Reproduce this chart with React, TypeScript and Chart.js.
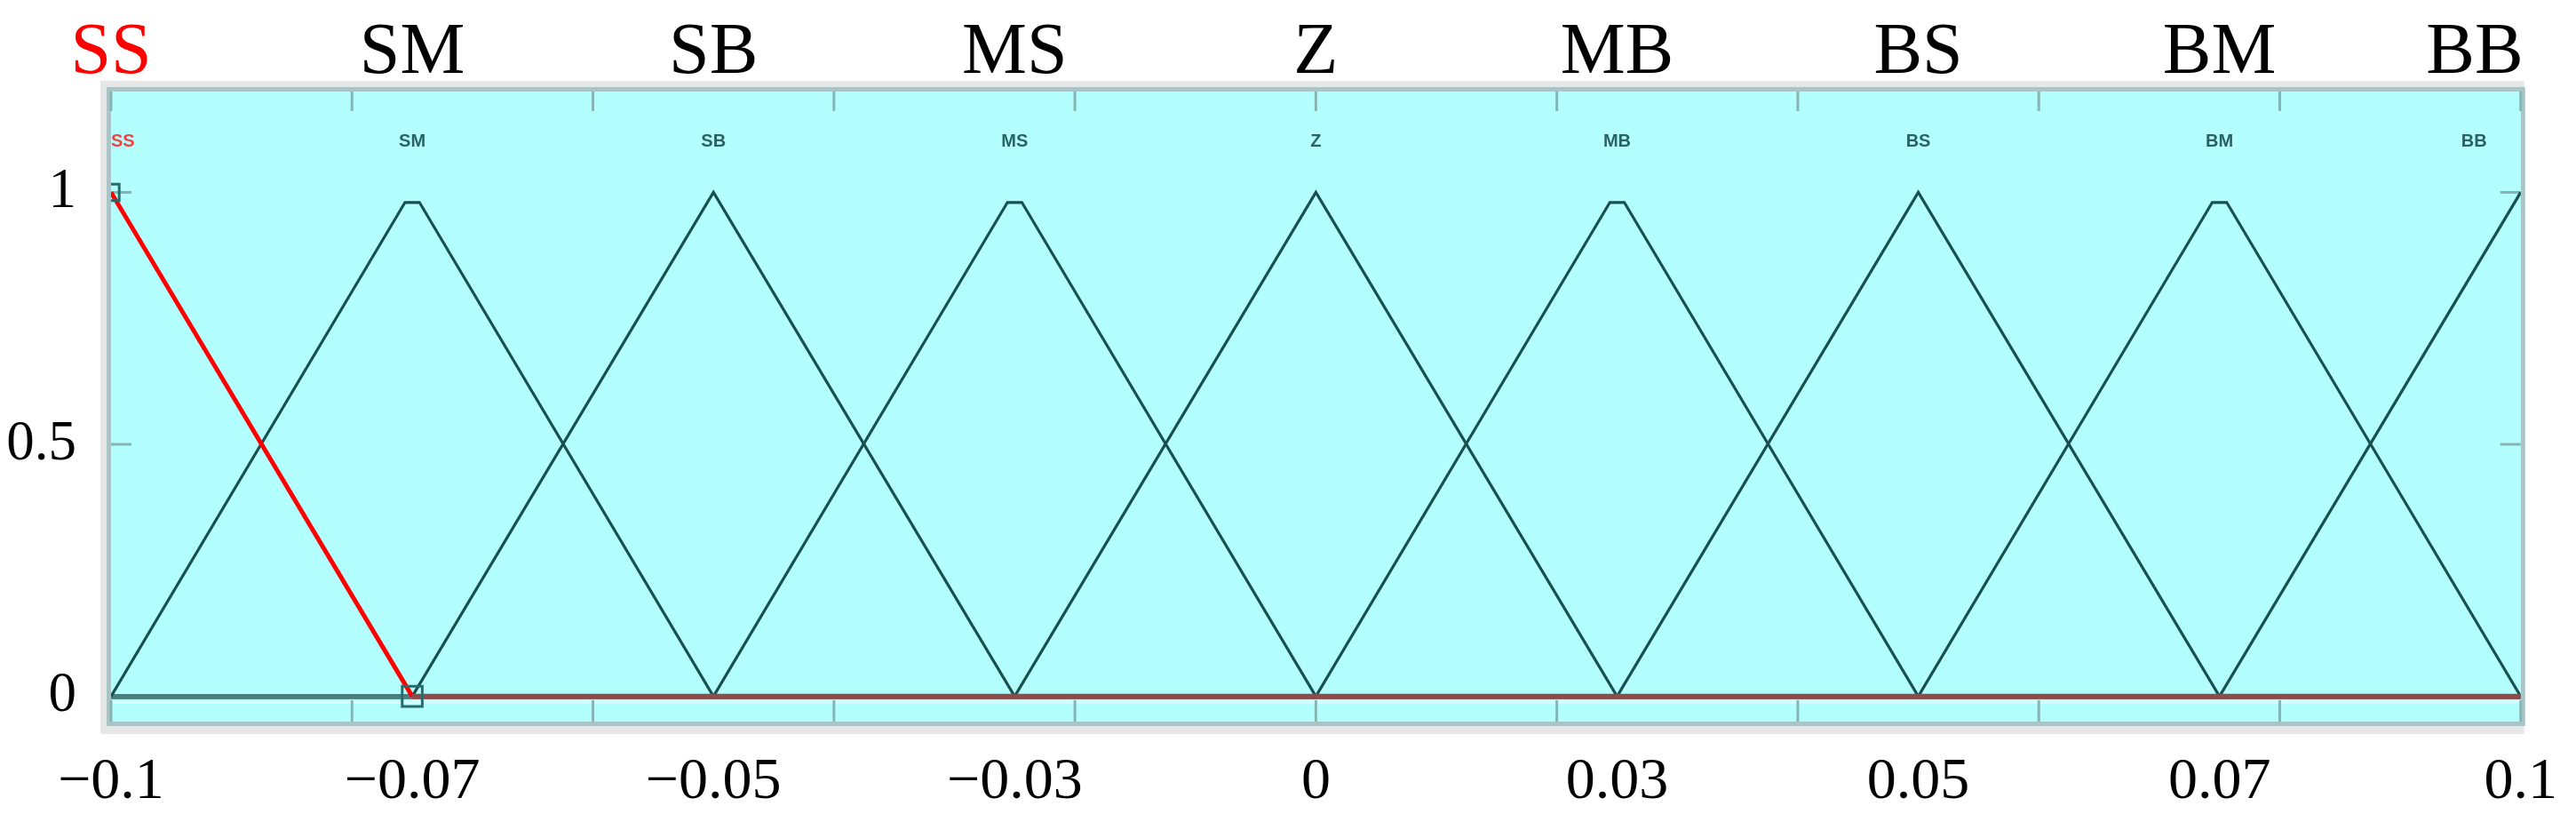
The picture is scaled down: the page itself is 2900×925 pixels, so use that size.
import React, { useEffect, useRef } from 'react';
import { Chart, registerables } from 'chart.js';

Chart.register(...registerables);

// ---- data ----
const mfNames = ['SS', 'SM', 'SB', 'MS', 'Z', 'MB', 'BS', 'BM', 'BB'];
const mfCenters = [-0.1, -0.075, -0.05, -0.025, 0, 0.025, 0.05, 0.075, 0.1];
const xTickLabels = ['\u22120.1', '\u22120.07', '\u22120.05', '\u22120.03', '0', '0.03', '0.05', '0.07', '0.1'];
const yTickValues = [0, 0.5, 1];
const yTickLabels = ['0', '0.5', '1'];
const frameTicks = [-0.1, -0.08, -0.06, -0.04, -0.02, 0, 0.02, 0.04, 0.06, 0.08, 0.1];
const labelLevel = 1.1;

// membership functions as plotted: [x, membership]
const mfSS = [[-0.1, 1], [-0.075, 0], [0.1, 0]];
const mfSM = [[-0.1, 0], [-0.0756, 0.98], [-0.0744, 0.98], [-0.05, 0], [0.1, 0]];
const mfSB = [[-0.1, 0], [-0.075, 0], [-0.05, 1], [-0.025, 0], [0.1, 0]];
const mfMS = [[-0.1, 0], [-0.05, 0], [-0.0256, 0.98], [-0.0244, 0.98], [0, 0], [0.1, 0]];
const mfZ = [[-0.1, 0], [-0.025, 0], [0, 1], [0.025, 0], [0.1, 0]];
const mfMB = [[-0.1, 0], [0, 0], [0.0244, 0.98], [0.0256, 0.98], [0.05, 0], [0.1, 0]];
const mfBS = [[-0.1, 0], [0.025, 0], [0.05, 1], [0.075, 0], [0.1, 0]];
const mfBM = [[-0.1, 0], [0.05, 0], [0.0744, 0.98], [0.0756, 0.98], [0.1, 0]];
const mfBB = [[-0.1, 0], [0.075, 0], [0.1, 1]];

const selectedIndex = 0;
const otherMFs = [mfSM, mfSB, mfMS, mfZ, mfMB, mfBS, mfBM, mfBB];

const SERIF = "'Liberation Serif', 'Times New Roman', serif";
const SANS = "'Liberation Sans', Arial, sans-serif";
const RED = '#ff0000';
const LINE = '#17504f';

const toPts = (arr: number[][]) => arr.map(([x, y]) => ({ x, y }));
const isZeroSeg = (ctx: any) => ctx.p0.parsed.y === 0 && ctx.p1.parsed.y === 0;

const framePlugin = {
  id: 'mfFrame',
  beforeDraw(chart: any) {
    const { ctx, chartArea: a, scales } = chart;
    const w = a.right - a.left;
    const h = a.bottom - a.top;
    ctx.save();
    ctx.fillStyle = '#e7e7e7';
    ctx.fillRect(a.left - 12, a.top - 12, w + 16, h + 26);
    ctx.strokeStyle = '#a9c5c5';
    ctx.lineWidth = 5;
    ctx.strokeRect(a.left - 2.5, a.top - 2.5, w + 5, h + 5);
    ctx.fillStyle = '#b3ffff';
    ctx.fillRect(a.left, a.top, w, h);
    const y0 = scales.y.getPixelForValue(0);
    ctx.fillStyle = '#dcffff';
    ctx.fillRect(a.left, y0 + 5, w, 3);
    ctx.strokeStyle = '#88b4b4';
    ctx.lineWidth = 3;
    ctx.beginPath();
    for (const v of frameTicks) {
      const px = scales.x.getPixelForValue(v);
      ctx.moveTo(px, a.top);
      ctx.lineTo(px, a.top + 22);
      ctx.moveTo(px, a.bottom);
      ctx.lineTo(px, a.bottom - 24);
    }
    for (const v of yTickValues) {
      const py = scales.y.getPixelForValue(v);
      ctx.moveTo(a.left, py);
      ctx.lineTo(a.left + 23, py);
      ctx.moveTo(a.right, py);
      ctx.lineTo(a.right - 23, py);
    }
    ctx.stroke();
    ctx.restore();
  },
  afterDraw(chart: any) {
    const { ctx, chartArea: a, scales } = chart;
    ctx.save();
    // big names above the plot
    ctx.font = `82px ${SERIF}`;
    ctx.textBaseline = 'alphabetic';
    ctx.textAlign = 'left';
    mfNames.forEach((name, i) => {
      const cx = scales.x.getPixelForValue(mfCenters[i]);
      const tw = ctx.measureText(name).width;
      let left = cx - tw / 2;
      if (left + tw > a.right + 3) left = a.right + 3 - tw;
      ctx.fillStyle = i === selectedIndex ? RED : '#000000';
      ctx.fillText(name, left, 82);
    });
    // small MATLAB-style names inside the plot
    ctx.font = `bold 20px ${SANS}`;
    ctx.textBaseline = 'middle';
    const ly = scales.y.getPixelForValue(labelLevel);
    mfNames.forEach((name, i) => {
      const cx = scales.x.getPixelForValue(mfCenters[i]);
      const tw = ctx.measureText(name).width;
      let left = cx - tw / 2;
      if (left < a.left) left = a.left;
      if (left + tw > a.right - 38) left = a.right - 38 - tw;
      ctx.fillStyle = i === selectedIndex ? '#ee4444' : '#2b6262';
      ctx.fillText(name, left, ly);
    });
    ctx.restore();
  },
};

export default function App() {
  const ref = useRef<HTMLCanvasElement | null>(null);

  useEffect(() => {
    if (!ref.current) return;
    const datasets: any[] = [
      {
        data: toPts(mfSS),
        borderColor: RED,
        borderWidth: 5,
        segment: {
          borderColor: (c: any) => (isZeroSeg(c) ? '#914a4a' : undefined),
          borderWidth: (c: any) => (isZeroSeg(c) ? 6 : undefined),
        },
        pointStyle: 'rect',
        pointRadius: [13, 16, 0],
        pointBorderColor: '#2a6a6a',
        pointBorderWidth: 3,
        pointBackgroundColor: 'rgba(0,0,0,0)',
        tension: 0,
      },
      ...otherMFs.map((mf) => ({
        data: toPts(mf),
        borderColor: LINE,
        borderWidth: 3.2,
        segment: {
          borderColor: (c: any) => (isZeroSeg(c) ? '#4a7d7d' : undefined),
          borderWidth: (c: any) => (isZeroSeg(c) ? 5 : undefined),
        },
        pointRadius: 0,
        tension: 0,
      })),
    ];

    const chart = new Chart(ref.current, {
      type: 'line',
      data: { datasets },
      options: {
        animation: false,
        responsive: false,
        maintainAspectRatio: false,
        devicePixelRatio: 1,
        layout: { padding: { top: 103, right: 61, left: 0, bottom: 0 } },
        plugins: { legend: { display: false }, tooltip: { enabled: false } },
        scales: {
          x: {
            type: 'linear',
            position: 'bottom',
            min: -0.1,
            max: 0.1,
            grid: { display: false },
            border: { display: false },
            afterBuildTicks: (s: any) => {
              s.ticks = mfCenters.map((v) => ({ value: v }));
            },
            afterFit: (s: any) => {
              s.height = 113;
            },
            ticks: {
              autoSkip: false,
              maxRotation: 0,
              padding: 21,
              color: '#000',
              font: { family: SERIF, size: 66 },
              callback: (_v: any, i: number) => xTickLabels[i],
            },
          },
          y: {
            type: 'linear',
            min: -0.05,
            max: 1.2,
            grid: { display: false },
            border: { display: false },
            afterBuildTicks: (s: any) => {
              s.ticks = yTickValues.map((v) => ({ value: v }));
            },
            afterFit: (s: any) => {
              s.width = 125;
            },
            ticks: {
              padding: 31,
              color: '#000',
              font: { family: SERIF, size: 63 },
              callback: (_v: any, i: number) => yTickLabels[i],
            },
          },
        },
      },
      plugins: [framePlugin],
    } as any);
    return () => chart.destroy();
  }, []);

  return (
    <div style={{ position: 'absolute', left: 0, top: 0, width: 2900, height: 925, background: '#fff' }}>
      <canvas ref={ref} width={2900} height={925} style={{ width: 2900, height: 925, display: 'block' }} />
    </div>
  );
}
